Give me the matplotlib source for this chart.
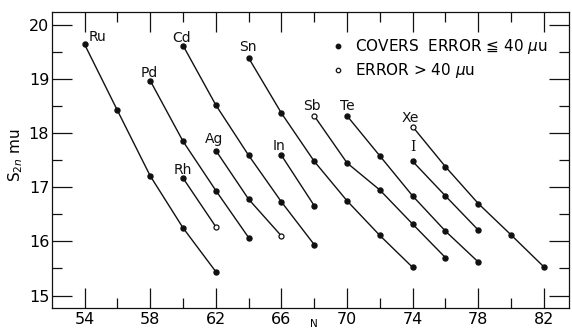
import matplotlib
matplotlib.use("Agg")
import matplotlib.pyplot as plt
from matplotlib.lines import Line2D
from matplotlib.ticker import MultipleLocator

# ---- data ----
elements = ["Ru", "Pd", "Rh", "Cd", "Ag", "Sn", "In", "Sb", "Te", "I", "Xe"]
n_ru = [54, 56, 58, 60, 62]
s_ru = [19.64, 18.42, 17.21, 16.25, 15.44]
n_pd = [58, 60, 62, 64]
s_pd = [18.97, 17.85, 16.94, 16.07]
n_rh = [60, 62]
s_rh = [17.17, 16.27]
n_cd = [60, 62, 64, 66, 68]
s_cd = [19.62, 18.52, 17.59, 16.73, 15.94]
n_ag = [62, 64, 66]
s_ag = [17.68, 16.78, 16.10]
n_sn = [64, 66, 68, 70, 72, 74]
s_sn = [19.39, 18.37, 17.48, 16.75, 16.11, 15.52]
n_in = [66, 68]
s_in = [17.59, 16.66]
n_sb = [68, 70, 72, 74, 76]
s_sb = [18.32, 17.45, 16.95, 16.32, 15.70]
n_te = [70, 72, 74, 76, 78]
s_te = [18.32, 17.58, 16.84, 16.19, 15.62]
n_i = [74, 76, 78]
s_i = [17.48, 16.84, 16.21]
n_xe = [74, 76, 78, 80, 82]
s_xe = [18.12, 17.38, 16.70, 16.12, 15.53]

# points whose error is > 40 micro-u (drawn as open circles)
open_rh = [False, True]
open_ag = [False, False, True]
open_sb = [True, False, False, False, False]
open_xe = [True, False, False, False, False]

x_ticks = [54, 58, 62, 66, 70, 74, 78, 82]
y_ticks = [15, 16, 17, 18, 19, 20]
legend_labels = ["COVERS  ERROR \u2266 40 $\\mu$u", "ERROR > 40 $\\mu$u"]

series = [
    ("Ru", n_ru, s_ru, None),
    ("Pd", n_pd, s_pd, None),
    ("Rh", n_rh, s_rh, open_rh),
    ("Cd", n_cd, s_cd, None),
    ("Ag", n_ag, s_ag, open_ag),
    ("Sn", n_sn, s_sn, None),
    ("In", n_in, s_in, None),
    ("Sb", n_sb, s_sb, open_sb),
    ("Te", n_te, s_te, None),
    ("I", n_i, s_i, None),
    ("Xe", n_xe, s_xe, open_xe),
]

# label offsets in pixels relative to the first point of each series
label_offsets = {
    "Ru": (13, 7), "Pd": (-1, 8), "Rh": (0, 8), "Cd": (-1, 8),
    "Ag": (-2, 12), "Sn": (-1, 11), "In": (-2, 9), "Sb": (-2, 10),
    "Te": (0, 10), "I": (0, 14), "Xe": (-2, 9),
}

plt.rcParams["font.family"] = ["DejaVu Sans"]
fig = plt.figure(figsize=(5.72, 3.28), dpi=100)
ax = fig.add_axes([52 / 572, 1 - 308 / 328, 517 / 572, 296 / 328])

ink = "#111111"
for name, nv, sv, op in series:
    ax.plot(nv, sv, color=ink, lw=1.0, zorder=2)
    if op is None:
        op = [False] * len(nv)
    fx = [n for n, o in zip(nv, op) if not o]
    fy = [s for s, o in zip(sv, op) if not o]
    ox = [n for n, o in zip(nv, op) if o]
    oy = [s for s, o in zip(sv, op) if o]
    ax.plot(fx, fy, "o", ms=3.6, color=ink, zorder=3)
    if ox:
        ax.plot(ox, oy, "o", ms=3.6, mfc="white", mec=ink, mew=0.9, zorder=3)
    dx, dy = label_offsets[name]
    fam = "DejaVu Serif" if name == "I" else "DejaVu Sans"
    ax.annotate(name, (nv[0], sv[0]), xytext=(dx, dy), textcoords="offset pixels",
                ha="center", va="center", fontsize=10, family=fam, color=ink)

ax.set_xlim(52.01, 83.53)
ax.set_ylim(14.77, 20.24)
ax.set_xticks(x_ticks)
ax.set_yticks(y_ticks)
ax.xaxis.set_minor_locator(MultipleLocator(2))
ax.yaxis.set_minor_locator(MultipleLocator(0.5))
ax.tick_params(which="both", direction="in", top=True, right=True, width=0.9, color=ink)
ax.tick_params(which="major", length=14.5, labelsize=11.5, pad=3)
ax.tick_params(which="minor", length=7.5)
ax.tick_params(axis="y", which="major", pad=2)
for sp in ax.spines.values():
    sp.set_linewidth(0.9)
    sp.set_color(ink)

ax.set_xlabel("N", fontsize=7.5)
ax.xaxis.set_label_coords((314 - 52) / 517, (308 - 319) / 296)
ax.set_ylabel("S$_{2n}$ mu", fontsize=11)
ax.yaxis.set_label_coords((25 - 52) / 517, (308 - 155) / 296)

handles = [
    Line2D([], [], ls="none", marker="o", ms=3.2, color=ink),
    Line2D([], [], ls="none", marker="o", ms=3.2, mfc="white", mec=ink, mew=0.9),
]
leg = ax.legend(handles, legend_labels, loc="upper left",
                bbox_to_anchor=((332 - 52) / 517, (308 - 37) / 296),
                frameon=False, fontsize=11, handlelength=0.8, handletextpad=0.7,
                labelspacing=0.35, borderpad=0.0, borderaxespad=0.0)

fig.savefig("out.png", dpi=100)
